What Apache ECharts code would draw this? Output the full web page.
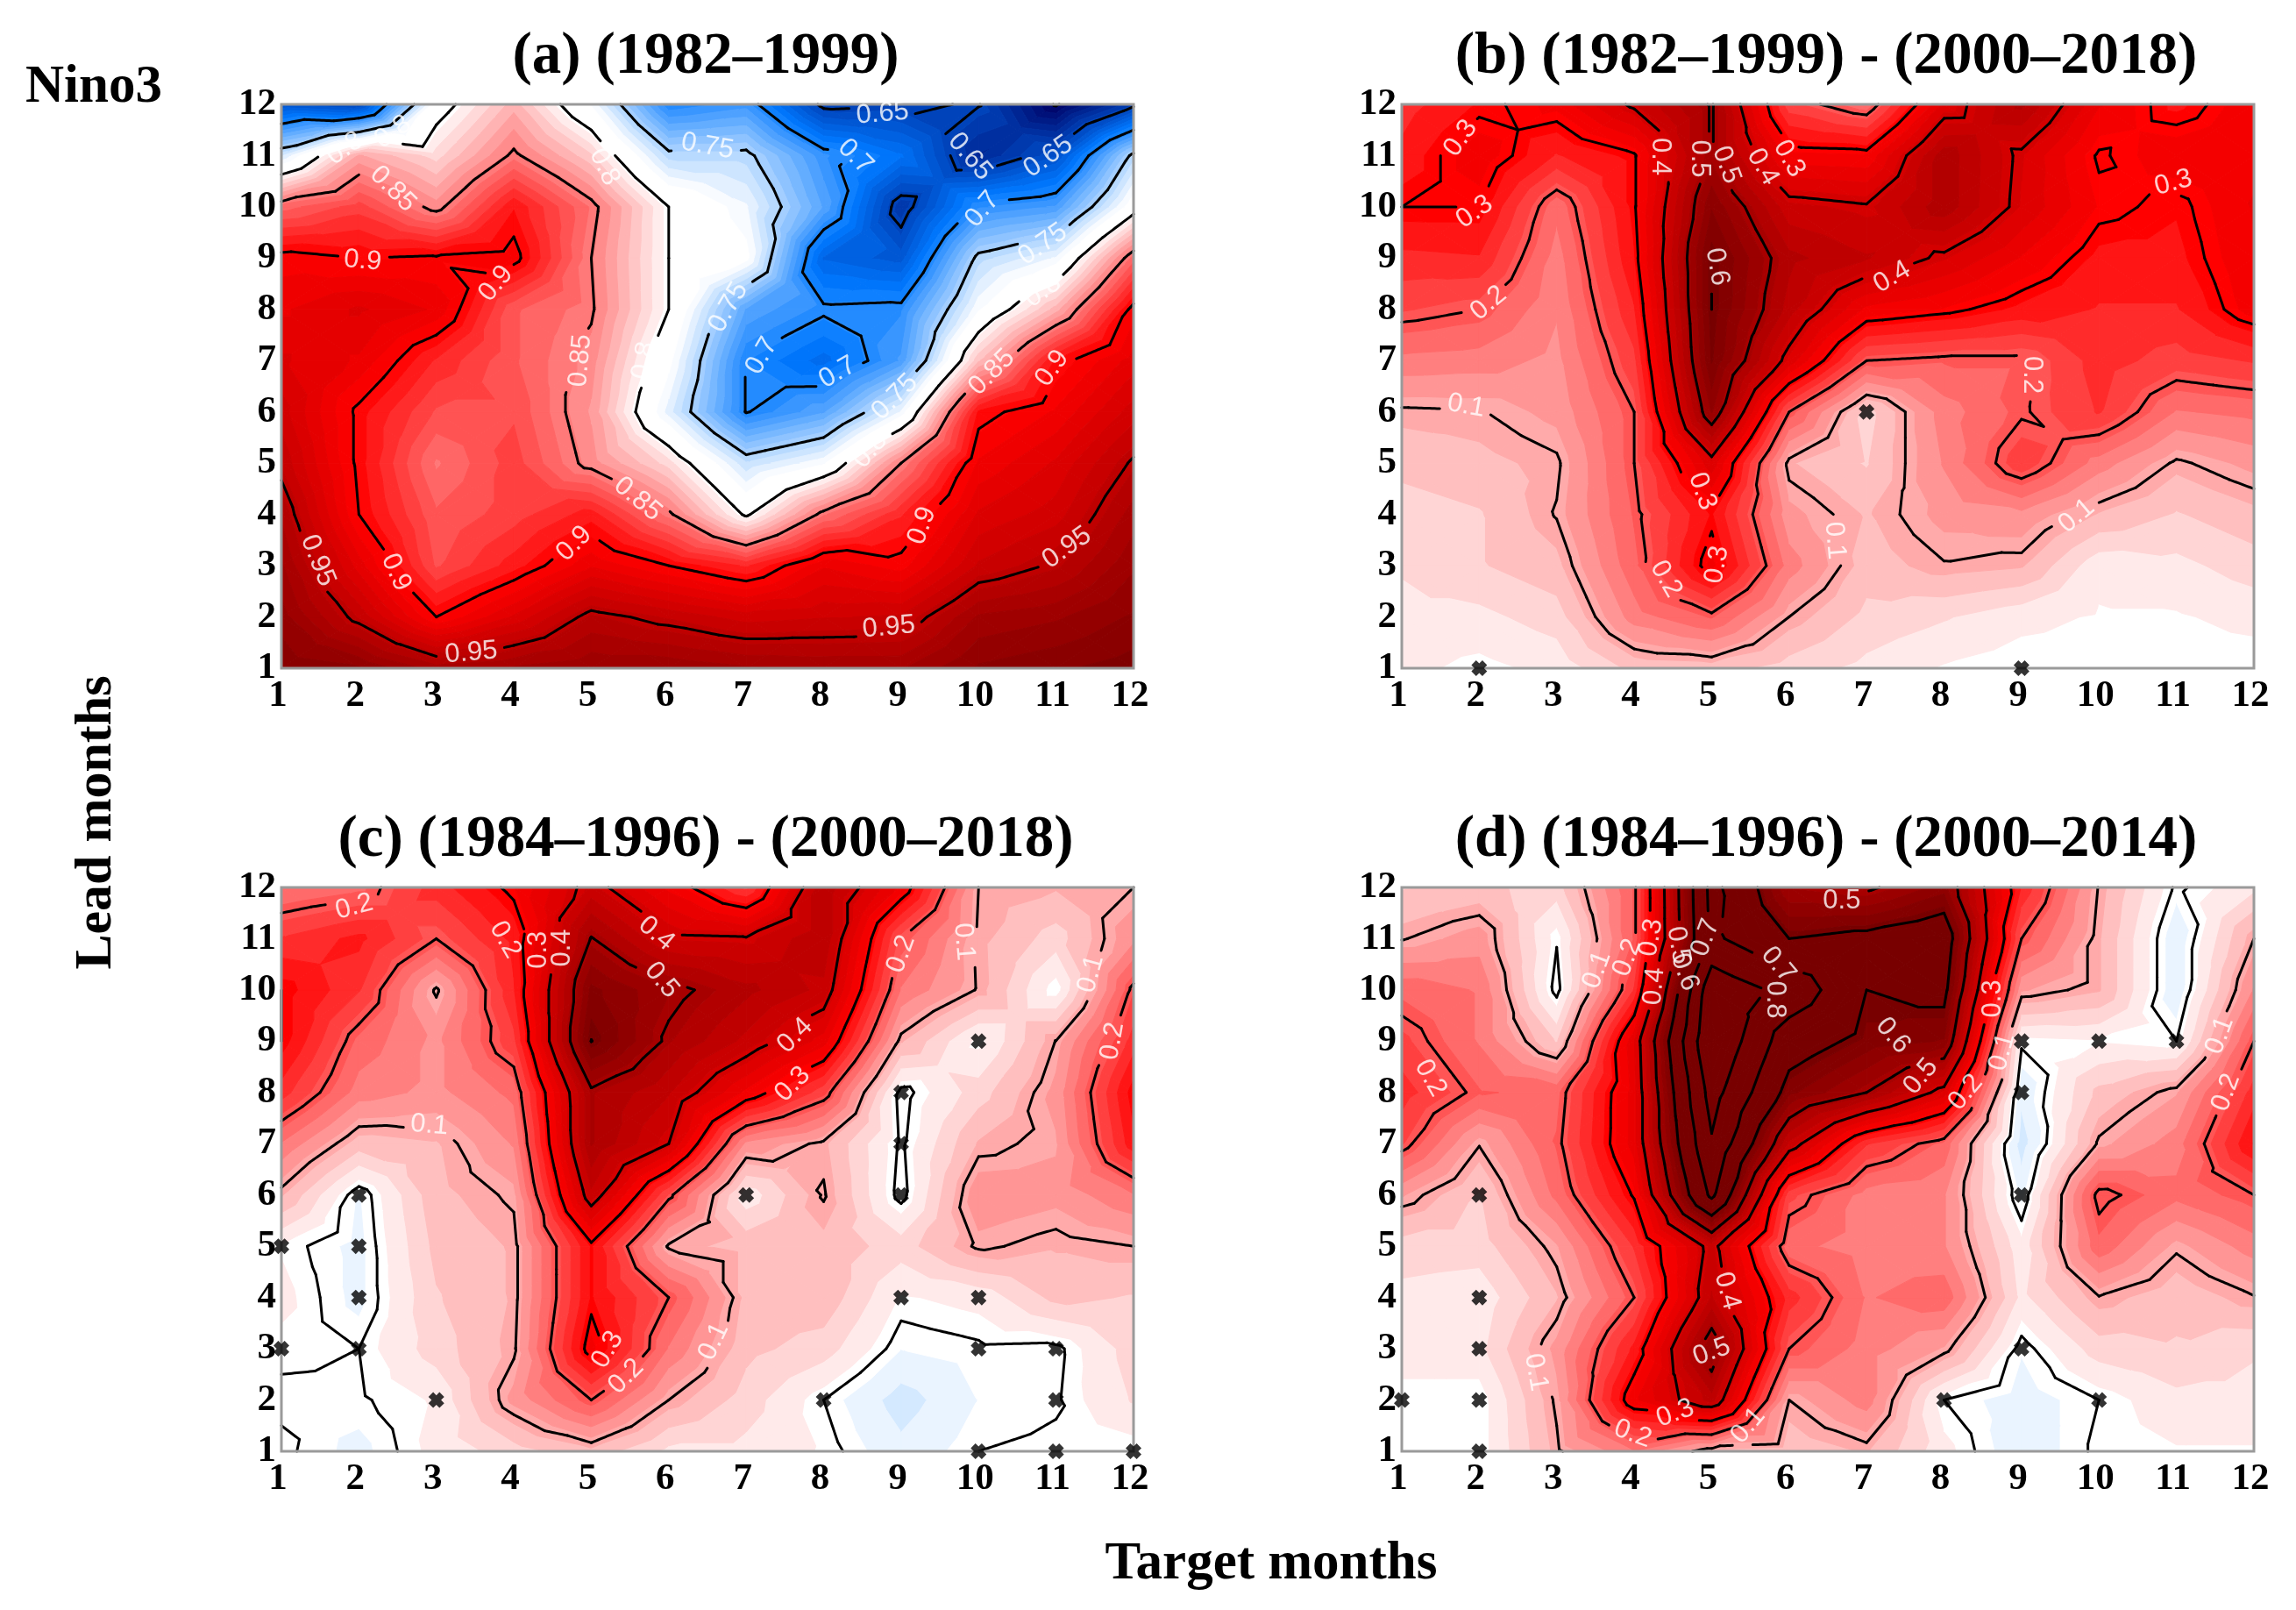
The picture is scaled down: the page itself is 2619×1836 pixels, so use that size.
<!DOCTYPE html>
<html><head><meta charset="utf-8">
<style>html,body{margin:0;padding:0;background:#fff}#c{width:2619px;height:1836px;filter:blur(0.7px)}</style>
<script src="https://cdn.jsdelivr.net/npm/echarts@6/dist/echarts.min.js"></script>
</head><body><div id="c"></div>
<script>
const months=[1,2,3,4,5,6,7,8,9,10,11,12];
// each inner array: one target month, values for lead months 1..12
const panelA=[
[.99,.98,.97,.96,.945,.935,.925,.915,.905,.86,.765,.66],
[.985,.945,.92,.9,.897,.897,.915,.925,.9,.875,.835,.65],
[.965,.9,.87,.865,.855,.87,.885,.915,.902,.845,.815,.79],
[.97,.925,.89,.875,.875,.87,.865,.865,.905,.893,.853,.83],
[.975,.955,.915,.89,.845,.84,.845,.852,.85,.855,.82,.78],
[.975,.945,.9,.853,.815,.77,.785,.8,.8,.8,.755,.7],
[.97,.935,.885,.797,.76,.699,.699,.72,.785,.775,.755,.71],
[.968,.938,.915,.855,.78,.72,.68,.703,.675,.72,.708,.645],
[.968,.94,.905,.885,.85,.775,.715,.705,.665,.64,.685,.648],
[.985,.97,.94,.925,.91,.895,.825,.78,.755,.705,.63,.651],
[.99,.975,.952,.935,.925,.91,.895,.83,.775,.715,.66,.598],
[.995,.985,.975,.965,.952,.935,.92,.905,.86,.79,.755,.645]];
const panelB=[
[.02,.03,.04,.05,.07,.095,.155,.215,.255,.3,.27,.25],
[.005,.03,.06,.06,.08,.098,.15,.2,.26,.3,.33,.29],
[.02,.05,.08,.102,.095,.12,.13,.14,.15,.17,.26,.32],
[.07,.15,.18,.19,.2,.2,.23,.26,.285,.295,.295,.41],
[.075,.19,.32,.29,.38,.54,.59,.6,.6,.56,.505,.505],
[.05,.1,.15,.12,.09,.2,.38,.45,.47,.42,.32,.22],
[.03,.055,.075,.085,.06,.05,.2,.33,.44,.405,.315,.17],
[.01,.04,.098,.12,.14,.15,.19,.31,.39,.48,.48,.37],
[0,.02,.09,.13,.23,.195,.19,.28,.335,.385,.39,.47],
[0,.01,.02,.085,.15,.24,.25,.26,.28,.31,.295,.34],
[0,.01,.03,.06,.095,.16,.225,.26,.28,.29,.33,.28],
[0,.02,.05,.08,.12,.17,.24,.325,.335,.34,.33,.33]];
const panelC=[
[.005,-.005,.005,.02,.01,.09,.16,.25,.3,.3,.24,.16],
[-.02,-.003,0,-.02,-.02,-.015,.075,.15,.18,.24,.27,.18],
[.02,.015,.05,.06,.07,.08,.085,.13,.13,.095,.2,.25],
[.05,.12,.095,.09,.09,.105,.14,.17,.23,.26,.27,.31],
[.08,.2,.32,.29,.29,.43,.49,.49,.601,.57,.503,.42],
[.03,.1,.16,.2,.095,.21,.4,.44,.49,.515,.41,.33],
[.03,.05,.07,.08,.08,.02,.13,.33,.43,.47,.405,.23],
[.01,0,.05,.08,.08,.103,.093,.22,.35,.43,.46,.46],
[-.03,-.05,-.012,.01,.05,-.01,-.005,-.01,.09,.16,.2,.33],
[0,-.012,-.004,.02,.105,.13,.09,.05,.005,.097,.095,.1],
[.005,-.003,-.006,.07,.09,.12,.11,.12,.101,0,.05,.09],
[0,.04,.05,.06,.1,.16,.28,.3,.25,.21,.13,.1]];
const panelD=[
[0,0,.03,.03,.05,.115,.215,.25,.22,.18,.098,.06],
[0,0,.03,.02,.05,.06,.102,.19,.16,.16,.125,.07],
[.095,.105,.12,.085,.11,.17,.19,.18,.06,-.01,.002,.05],
[.16,.33,.27,.2,.24,.305,.35,.35,.36,.24,.19,.19],
[.08,.45,.54,.44,.42,.72,.79,.84,.9,.87,.72,.73],
[.07,.1,.2,.25,.17,.22,.43,.57,.64,.77,.6,.51],
[.09,.15,.15,.16,.15,.15,.24,.5,.58,.6,.62,.49],
[.02,0,.11,.18,.14,.14,.18,.38,.56,.62,.65,.55],
[-.03,-.025,-.01,.03,.02,-.02,-.05,-.03,.005,.115,.2,.26],
[.005,0,.05,.098,.18,.212,.105,.07,.01,.09,.09,.098],
[.01,.03,.06,.07,.105,.17,.15,.11,0,-.03,-.03,-.005],
[.01,.03,.04,.098,.15,.2,.29,.25,.2,.14,.1,.03]];
const levelsA=[.6,.65,.7,.75,.8,.85,.9,.95];
const levelsB=[.1,.2,.3,.4,.5,.6];
const levelsC=[0,.1,.2,.3,.4,.5,.6];
const levelsD=[0,.1,.2,.3,.4,.5,.6,.7,.8,.9];
// crosses: [target, lead]
const crossB=[[2,1],[9,1],[7,6]];
const crossC=[[1,5],[1,3],[2,6],[2,5],[2,4],[2,3],[3,2],[7,6],[9,8],[9,7],[9,6],[9,4],[10,9],[10,4],[10,3],[11,3],[8,2],[11,2],[10,1],[11,1],[12,1]];
const crossD=[[1,2],[2,6],[2,4],[2,3],[2,2],[2,1],[8,2],[9,9],[9,8],[9,6],[9,3],[10,9],[10,2],[11,9]];
// contour labels: [text, target, lead, rotation]
const labelsA=[['0.95',3.45,1.3,5],['0.95',8.84,1.8,5],['0.95',1.47,3.1,-68],['0.95',11.14,3.35,35],
['0.9',2.05,8.95,-5],['0.9',3.77,8.5,50],['0.9',2.48,2.87,-65],['0.9',4.78,3.43,45],['0.9',9.27,3.78,70],['0.9',10.95,6.85,55],
['0.85',2.44,10.35,-45],['0.85',4.86,7,85],['0.85',5.6,4.3,-40],['0.85',10.17,6.77,45],
['0.8',1.82,11.14,35],['0.8',2.44,11.46,35],['0.8',5.17,10.78,-65],['0.8',5.68,7,80],['0.8',8.6,5.25,50],['0.8',10.83,8.36,35],
['0.75',6.5,11.18,-10],['0.75',6.77,8.04,60],['0.75',8.92,6.29,45],['0.75',10.83,9.27,35],
['0.7',7.2,7.09,60],['0.7',8.18,6.77,30],['0.7',8.41,10.98,-45],['0.7',10.05,9.95,50],
['0.65',8.76,11.82,5],['0.65',9.89,10.98,-50],['0.65',10.9,10.98,35]];
const labelsB=[['0.3',1.76,11.34,55],['0.3',1.94,9.9,35],['0.3',6,10.94,-60],['0.3',4.88,4.45,-70],['0.3',5.07,3.02,80],['0.3',10.96,10.47,15],
['0.4',4.33,10.98,-90],['0.4',5.66,10.78,-60],['0.4',7.33,8.63,30],['0.5',4.84,10.94,-90],['0.5',5.19,10.82,-70],['0.6',5.07,8.83,-80],
['0.2',2.12,8.12,40],['0.2',9.13,6.72,-90],['0.2',4.41,2.74,-60],['0.1',1.83,6.12,-10],['0.1',6.59,3.49,-85],['0.1',9.71,3.97,40]];
const labelsC=[['0.2',1.94,11.62,15],['0.2',3.89,10.98,-60],['0.2',9,10.7,70],['0.2',5.45,2.46,45],['0.2',11.73,9,80],
['0.3',4.32,10.78,90],['0.3',7.6,8.16,45],['0.3',5.21,2.98,60],['0.4',4.63,10.82,90],['0.4',5.84,11.1,-40],['0.4',7.63,9.11,45],['0.5',5.91,10.19,-50],
['0.1',2.91,7.36,-5],['0.1',6.58,3.14,65],['0.1',9.81,10.94,-85],['0.1',11.45,10.31,75]];
const labelsD=[['0.1',3.52,10.39,70],['0.1',2.73,2.54,-80],['0.1',5.47,1.5,50],['0.1',8.75,8.79,75],['0.1',11.56,9.11,70],
['0.2',1.37,8.28,-60],['0.2',3.91,10.63,70],['0.2',3.98,1.34,-20],['0.2',8.28,8,50],['0.2',11.64,8,70],
['0.3',4.22,11.02,80],['0.3',4.53,1.74,20],['0.3',8.63,9.83,90],['0.4',4.26,10.07,85],['0.4',5.2,4.13,-75],
['0.5',4.57,10.87,-80],['0.5',5,2.94,20],['0.5',6.68,11.74,0],['0.5',7.7,8.31,50],['0.6',4.65,10.35,-70],['0.6',7.34,9.11,-50],
['0.7',4.92,11.02,70],['0.7',5.86,10.49,-50],['0.8',5.82,9.81,-90]];
const panelTitles=['(a) (1982\u20131999)','(b) (1982\u20131999) - (2000\u20132018)','(c) (1984\u20131996) - (2000\u20132018)','(d) (1984\u20131996) - (2000\u20132014)'];

const GRIDS=[{left:321,top:119},{left:1599,top:119},{left:321,top:1012},{left:1599,top:1012}];
const GW=972,GH=643;
const SERIF='"Liberation Serif"',SANS='"Liberation Sans"';
const stops=[[-1,0,0,100],[-.5,0,120,255],[0,255,255,255],[.5,255,0,0],[.75,190,0,0],[1,120,0,0]];
function colorOf(n,plateau){
  n=Math.max(-1,Math.min(1,n));
  if(plateau&&n<0)n=Math.min(0,(n+plateau)/(1-plateau));
  for(let i=1;i<stops.length;i++){
    if(n<=stops[i][0]){
      const a=stops[i-1],b=stops[i],t=(n-a[0])/(b[0]-a[0]);
      return 'rgb('+[1,2,3].map(j=>Math.round(a[j]+(b[j]-a[j])*t)).join(',')+')';
    }
  }
  return 'rgb(120,0,0)';
}
function clip(poly,f){ // keep part where f(v)>=0
  const out=[];
  for(let i=0;i<poly.length;i++){
    const p=poly[i],q=poly[(i+1)%poly.length],fp=f(p[2]),fq=f(q[2]);
    if(fp>=0)out.push(p);
    if((fp>=0)!==(fq>=0)){
      const t=fp/(fp-fq);
      out.push([p[0]+(q[0]-p[0])*t,p[1]+(q[1]-p[1])*t,p[2]+(q[2]-p[2])*t]);
    }
  }
  return out;
}
function triangles(mat){
  const tr=[];
  for(let i=0;i<11;i++)for(let j=0;j<11;j++){
    const x0=months[i],x1=months[i+1],y0=months[j],y1=months[j+1];
    const a=[x0,y0,mat[i][j]],b=[x1,y0,mat[i+1][j]],c=[x1,y1,mat[i+1][j+1]],d=[x0,y1,mat[i][j+1]];
    const m=[(x0+x1)/2,(y0+y1)/2,(a[2]+b[2]+c[2]+d[2])/4];
    tr.push([a,b,m],[b,c,m],[c,d,m],[d,a,m]);
  }
  return tr;
}
function line(run){return {type:'polyline',shape:{points:run},style:{fill:'none',stroke:'#000',lineWidth:3,lineCap:'round',lineJoin:'round'}};}
function renderPanel(cfg){
  const tris=triangles(cfg.mat);
  return function(params,api){
    const px=p=>api.coord([p[0],p[1]]);
    const kids=[];
    const step=cfg.step,ctr=cfg.center,span=cfg.span;
    tris.forEach(T=>{
      const vs=T.map(p=>p[2]),mn=Math.min(...vs),mx=Math.max(...vs);
      const k0=Math.floor((mn-ctr)/step+.5),k1=Math.floor((mx-ctr)/step+.5);
      for(let k=k0;k<=k1;k++){
        const lo=ctr+(k-.5)*step,hi=ctr+(k+.5)*step;
        let poly=clip(T,v=>v-lo);
        if(poly.length>2)poly=clip(poly,v=>hi-v);
        if(poly.length<3)continue;
        const col=colorOf(k*step/span,cfg.plateau);
        kids.push({type:'polygon',shape:{points:poly.map(px)},style:{fill:col,stroke:col,lineWidth:1}});
      }
    });
    const labs=cfg.labels.map(l=>{const c=api.coord([l[1],l[2]]),r=l[3]*Math.PI/180;
      return {lev:parseFloat(l[0]),c,ux:Math.cos(r),uy:-Math.sin(r),hl:l[0].length*8.5+3};});
    cfg.levels.forEach(L=>{
      const mine=labs.filter(l=>Math.abs(l.lev-L)<1e-6);
      const hidden=(x,y)=>mine.some(l=>{const dx=x-l.c[0],dy=y-l.c[1],a=dx*l.ux+dy*l.uy,b=-dx*l.uy+dy*l.ux;
        return Math.abs(a)<l.hl&&Math.abs(b)<16;});
      tris.forEach(T=>{
        const pts=[];
        for(let i=0;i<3;i++){
          const p=T[i],q=T[(i+1)%3];
          if((p[2]>=L)!==(q[2]>=L)){
            const t=(L-p[2])/(q[2]-p[2]);
            pts.push([p[0]+(q[0]-p[0])*t,p[1]+(q[1]-p[1])*t]);
          }
        }
        if(pts.length<2)return;
        const A=px(pts[0]),B=px(pts[1]),len=Math.hypot(B[0]-A[0],B[1]-A[1]),n=Math.max(1,Math.ceil(len/3));
        let run=[];
        for(let s=0;s<=n;s++){
          const x=A[0]+(B[0]-A[0])*s/n,y=A[1]+(B[1]-A[1])*s/n;
          if(hidden(x,y)){if(run.length>1)kids.push(line(run));run=[];}
          else run.push([x,y]);
        }
        if(run.length>1)kids.push(line(run));
      });
    });
    const c0=api.coord([1,12]),c1=api.coord([12,1]);
    kids.push({type:'rect',shape:{x:c0[0],y:c0[1],width:c1[0]-c0[0],height:c1[1]-c0[1]},style:{fill:'none',stroke:'#9a9a9a',lineWidth:3}});
    return {type:'group',children:kids};
  };
}

const cfgs=[
 {mat:panelA,levels:levelsA,labels:labelsA,cross:[],center:.8,span:.2,step:.0075,plateau:.1},
 {mat:panelB,levels:levelsB,labels:labelsB,cross:crossB,center:0,span:.6,step:.025},
 {mat:panelC,levels:levelsC,labels:labelsC,cross:crossC,center:0,span:.6,step:.025},
 {mat:panelD,levels:levelsD,labels:labelsD,cross:crossD,center:0,span:.6,step:.025}];
const CROSS='path://M3 0L5 2L7 0L10 3L8 5L10 7L7 10L5 8L3 10L0 7L2 5L0 3Z';
const option={animation:false,backgroundColor:'#fff',
 grid:GRIDS.map(g=>({left:g.left,top:g.top,width:GW,height:GH})),
 xAxis:GRIDS.map((g,i)=>({type:'value',gridIndex:i,min:1,max:12,interval:1,splitLine:{show:false},axisTick:{show:false},axisLine:{show:false},
   axisLabel:{fontFamily:SERIF,fontWeight:'bold',fontSize:43,color:'#000',margin:10,padding:[0,8,0,0],showMinLabel:true,showMaxLabel:true}})),
 yAxis:GRIDS.map((g,i)=>({type:'value',gridIndex:i,min:1,max:12,interval:1,splitLine:{show:false},axisTick:{show:false},axisLine:{show:false},
   axisLabel:{fontFamily:SERIF,fontWeight:'bold',fontSize:43,color:'#000',margin:6,padding:[6,0,0,0],showMinLabel:true,showMaxLabel:true}})),
 title:panelTitles.map((t,i)=>({text:t,left:GRIDS[i].left+GW/2-7,top:GRIDS[i].top-92,textAlign:'center',
   textStyle:{fontFamily:SERIF,fontWeight:'bold',fontSize:67,color:'#000'}})).concat([
   {text:'Nino3',left:24,top:65,textStyle:{fontFamily:SERIF,fontWeight:'bold',fontSize:61,color:'#000'}},
   {text:'Target months',left:1445,top:1749,textAlign:'center',textStyle:{fontFamily:SERIF,fontWeight:'bold',fontSize:61,color:'#000'}}]),
 graphic:[{type:'text',x:110,y:938,rotation:Math.PI/2,style:{text:'Lead months',font:'bold 60px '+SERIF,fill:'#000',align:'center',verticalAlign:'middle'}}],
 series:[]};
cfgs.forEach((c,i)=>{
  option.series.push({type:'custom',xAxisIndex:i,yAxisIndex:i,data:[[1,1]],silent:true,clip:false,renderItem:renderPanel(c),z:1});
  option.series.push({type:'scatter',xAxisIndex:i,yAxisIndex:i,silent:true,z:3,symbol:CROSS,symbolSize:18,itemStyle:{color:'#000'},clip:false,data:c.cross});
  option.series.push({type:'scatter',xAxisIndex:i,yAxisIndex:i,silent:true,z:4,symbolSize:1,itemStyle:{color:'rgba(0,0,0,0)'},clip:false,
    data:c.labels.map(l=>({value:[l[1],l[2]],label:{show:true,position:'inside',formatter:l[0],rotate:l[3],fontFamily:SANS,fontSize:31,color:'#fff'}}))});
});
const chart=echarts.init(document.getElementById('c'),null,{renderer:'canvas'});
chart.setOption(option);
</script></body></html>
